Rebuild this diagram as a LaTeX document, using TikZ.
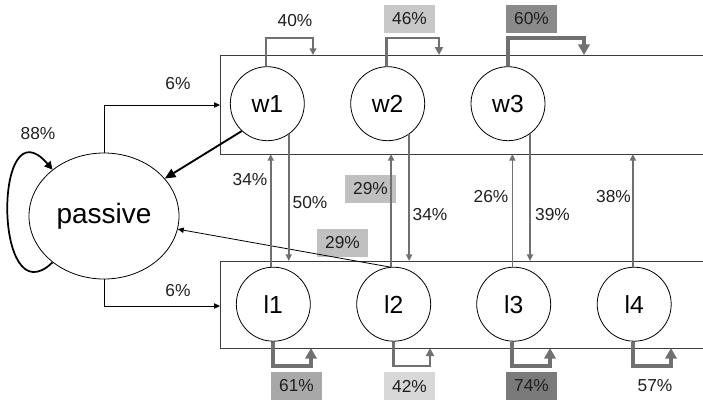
\documentclass[tikz,border=0pt]{standalone}
\usepackage{fontspec}
\setmainfont{Liberation Sans}
\usetikzlibrary{arrows.meta,shapes.geometric}
\definecolor{lg}{RGB}{112,112,112}
\definecolor{rc}{RGB}{60,60,60}
\definecolor{bA}{RGB}{200,200,200}
\definecolor{bB}{RGB}{138,138,138}
\definecolor{bC}{RGB}{192,192,192}
\definecolor{bD}{RGB}{168,168,168}
\definecolor{bE}{RGB}{216,216,216}
\definecolor{bF}{RGB}{122,122,122}
\begin{document}
\begin{tikzpicture}[x=0.75pt,y=-0.75pt,
  st/.style={circle,draw,line width=0.6pt,minimum size=55.5pt,inner sep=0pt,font=\fontsize{18.5}{20}\selectfont},
  ell/.style={ellipse,draw,line width=0.6pt,minimum width=112.5pt,minimum height=94.5pt,inner sep=0pt,font=\fontsize{21}{23}\selectfont},
  lab/.style={font=\fontsize{13}{15}\selectfont,inner sep=0pt,text=black!88},
  pbox/.style={lab,minimum width=38pt,minimum height=21pt},
  rect/.style={draw=rc,line width=0.7pt},
  blk/.style={draw=black,line width=0.6pt,-{Triangle[length=4.5pt,width=4pt]}},
  bigblk/.style={draw=black,line width=1.4pt,-{Triangle[length=8pt,width=7pt]}},
  loopblk/.style={draw=black,line width=1.3pt,-{Triangle[length=6pt,width=6pt]}},
  vg/.style={draw=lg,line width=1.3pt,-{Triangle[length=5pt,width=4.5pt]}},
  lpA/.style={draw=lg,line width=1.2pt,-{Triangle[length=5pt,width=5pt]}},
  lpB/.style={draw=lg,line width=2pt,-{Triangle[length=6pt,width=6pt]}},
  lpC/.style={draw=lg,line width=3pt,-{Triangle[length=8pt,width=8.5pt]}}
]
\useasboundingbox (0,0) rectangle (703,401);
% label boxes
\node[pbox,fill=bA] (p46) at (409.5,19) {46\%};
\node[pbox,fill=bB] (p60) at (531.5,19) {60\%};
\node[pbox,fill=bC] (p29a) at (370.5,189) {29\%};
\node[pbox,fill=bC] (p29b) at (342.5,243) {29\%};
\node[pbox,fill=bD] (p61) at (296.5,386) {61\%};
\node[pbox,fill=bE] (p42) at (409.5,386) {42\%};
\node[pbox,fill=bF] (p74) at (531.5,386) {74\%};
% plain labels
\node[lab] (p40) at (295,21) {40\%};
\node[lab] (p6a) at (178,84) {6\%};
\node[lab] (p6b) at (178,291) {6\%};
\node[lab] (p88) at (38,134) {88\%};
\node[lab] (p34a) at (250,180) {34\%};
\node[lab] (p50) at (310,203) {50\%};
\node[lab] (p34b) at (430,215) {34\%};
\node[lab] (p26) at (491,197) {26\%};
\node[lab] (p39) at (552.5,215) {39\%};
\node[lab] (p38) at (613.5,197) {38\%};
\node[lab] (p57) at (655,386) {57\%};
% rectangles
\draw[rect] (703,55) -- (220,55) -- (220,154) -- (703,154);
\draw[rect] (703,261) -- (220,261) -- (220,348) -- (703,348);
\coordinate (ub) at (220,154);
\coordinate (ut) at (220,55);
\coordinate (lt) at (220,261);
\coordinate (lb) at (220,348);
\coordinate (uin) at (220,105);
\coordinate (lin) at (220,306);
% states
\node[ell] (passive) at (104,216) {passive};
\node[st] (w1) at (267.3,103.7) {w1};
\node[st] (w2) at (387.7,103.7) {w2};
\node[st] (w3) at (508,103.7) {w3};
\node[st] (l1) at (273.3,304.2) {l1};
\node[st] (l2) at (393.7,304.2) {l2};
\node[st] (l3) at (513.7,304.2) {l3};
\node[st] (l4) at (634.2,304.2) {l4};
% passive connections
\draw[blk] (passive.north) |- (uin);
\draw[blk] (passive.south) |- (lin);
\draw[loopblk] (passive.222) .. controls (-7,320) and (-7,100) .. (passive.138);
\draw[bigblk] (w1.227) -- (passive);
\draw[blk] (l2.96) -- (passive);
% vertical transitions
\draw[vg] (l1.94) -- (l1.94 |- ub);
\draw[vg] (w1.-55) -- (w1.-55 |- lt);
\draw[vg] (l2.94) -- (l2.94 |- ub);
\draw[vg] (w2.-55) -- (w2.-55 |- lt);
\draw[vg] (l3.92) -- (l3.92 |- ub);
\draw[vg] (w3.-54) -- (w3.-54 |- lt);
\draw[vg] (l4.92) -- (l4.92 |- ub);
% self loops top
\coordinate (t1) at (313,55);
\coordinate (t2) at (439,55);
\coordinate (t3) at (584,55);
\draw[lpA] (w1.92) |- (313,38) -- (t1);
\draw[lpB] (w2.92) |- (439,38) -- (t2);
\draw[lpC,line width=3.5pt] (w3.90) |- (584,38) -- (t3);
% self loops bottom
\coordinate (b1) at (311,348);
\coordinate (b2) at (430,348);
\coordinate (b3) at (550,348);
\coordinate (b4) at (671,348);
\draw[lpC] (l1.270) |- (311,366) -- (b1);
\draw[lpB] (l2.270) |- (430,366) -- (b2);
\draw[lpC] (l3.268) |- (550,366) -- (b3);
\draw[lpC] (l4.268) |- (671,366) -- (b4);
\end{tikzpicture}
\end{document}
